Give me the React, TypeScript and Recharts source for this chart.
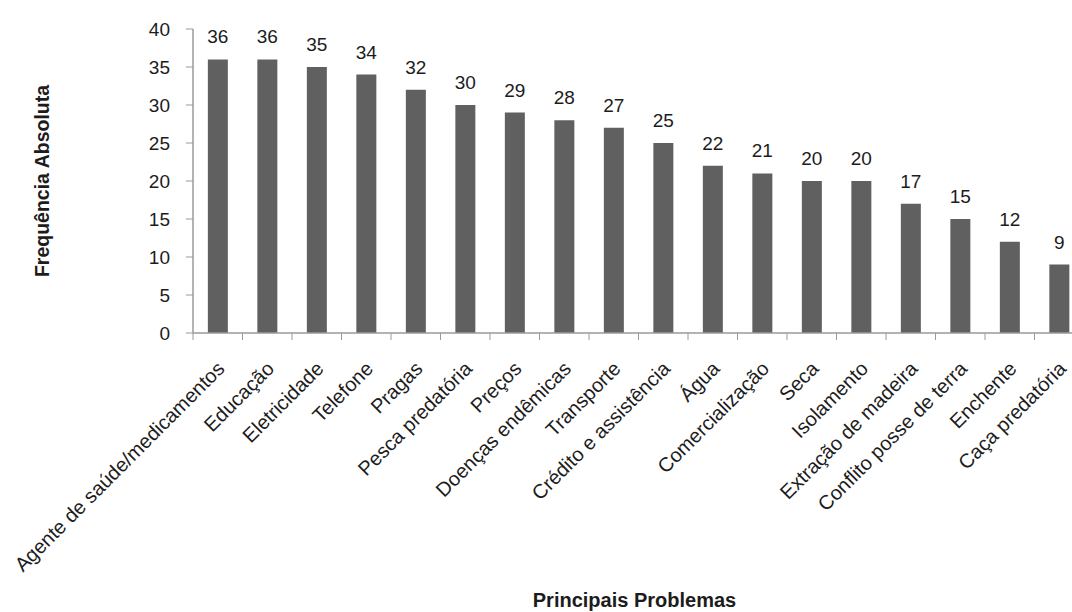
import React from "react";
import { BarChart, Bar, XAxis, YAxis, LabelList, Label } from "recharts";

const categories: string[] = [
  "Agente de saúde/medicamentos",
  "Educação",
  "Eletricidade",
  "Telefone",
  "Pragas",
  "Pesca predatória",
  "Preços",
  "Doenças endêmicas",
  "Transporte",
  "Crédito e assistência",
  "Água",
  "Comercialização",
  "Seca",
  "Isolamento",
  "Extração de madeira",
  "Conflito posse de terra",
  "Enchente",
  "Caça predatória",
];

const frequencies: number[] = [36, 36, 35, 34, 32, 30, 29, 28, 27, 25, 22, 21, 20, 20, 17, 15, 12, 9];

const yTicks: number[] = [0, 5, 10, 15, 20, 25, 30, 35, 40];

const yTitle = "Frequência Absoluta";
const xTitle = "Principais Problemas";

const data = categories.map((name, i) => ({ name, value: frequencies[i] }));

const CHART_W = 1100;
const CHART_H = 612;
const MARGIN = { top: 29, right: 16, left: 0, bottom: 1 };
const Y_AXIS_W = 193;
const X_AXIS_H = 278;
const PLOT_W = CHART_W - MARGIN.left - MARGIN.right - Y_AXIS_W;

const FONT = "'Liberation Sans', Arial, sans-serif";
const AXIS_COLOR = "#9a9a9a";
const TEXT_COLOR = "#1c1c1c";
const BAR_COLOR = "#606060";

const XTick = (props: any) => {
  const { x, y, payload } = props;
  const step = PLOT_W / categories.length;
  const bx = x - step / 2;
  const ax = x + 8;
  const ay = y + 37;
  return (
    <g>
      <line x1={bx} x2={bx} y1={y} y2={y + 7} stroke={AXIS_COLOR} strokeWidth={1} />
      <text
        x={ax}
        y={ay}
        textAnchor="end"
        transform={`rotate(-45 ${ax} ${ay})`}
        fontSize={20}
        fontFamily={FONT}
        fill={TEXT_COLOR}
      >
        {payload.value}
      </text>
    </g>
  );
};

export default function App() {
  return (
    <div
      style={{
        position: "absolute",
        left: 0,
        top: 0,
        width: 1072,
        height: 612,
        overflow: "hidden",
        background: "#ffffff",
      }}
    >
      <BarChart width={CHART_W} height={CHART_H} data={data} margin={MARGIN} barCategoryGap="30%">
        <XAxis
          dataKey="name"
          interval={0}
          height={X_AXIS_H}
          tickLine={false}
          tickSize={0}
          tickMargin={0}
          axisLine={{ stroke: AXIS_COLOR, strokeWidth: 1.5 }}
          tick={<XTick />}
        >
          <Label
            value={xTitle}
            position="insideBottom"
            offset={4}
            dx={-4}
            style={{ fontFamily: FONT, fontSize: 20, fontWeight: "bold", fill: TEXT_COLOR }}
          />
        </XAxis>
        <YAxis
          width={Y_AXIS_W}
          domain={[0, 40]}
          ticks={yTicks}
          interval={0}
          tickSize={7}
          tickMargin={16}
          axisLine={{ stroke: AXIS_COLOR, strokeWidth: 1.5 }}
          tickLine={{ stroke: AXIS_COLOR, strokeWidth: 1 }}
          tick={{ fontSize: 19, fontFamily: FONT, fill: TEXT_COLOR }}
        >
          <Label
            value={yTitle}
            angle={-90}
            position="insideLeft"
            offset={42}
            style={{ fontFamily: FONT, fontSize: 19.5, fontWeight: "bold", fill: TEXT_COLOR, textAnchor: "middle" }}
          />
        </YAxis>
        <Bar dataKey="value" fill={BAR_COLOR} isAnimationActive={false}>
          <LabelList
            dataKey="value"
            position="top"
            offset={16}
            style={{ fontSize: 19, fontFamily: FONT, fill: TEXT_COLOR }}
          />
        </Bar>
      </BarChart>
    </div>
  );
}
